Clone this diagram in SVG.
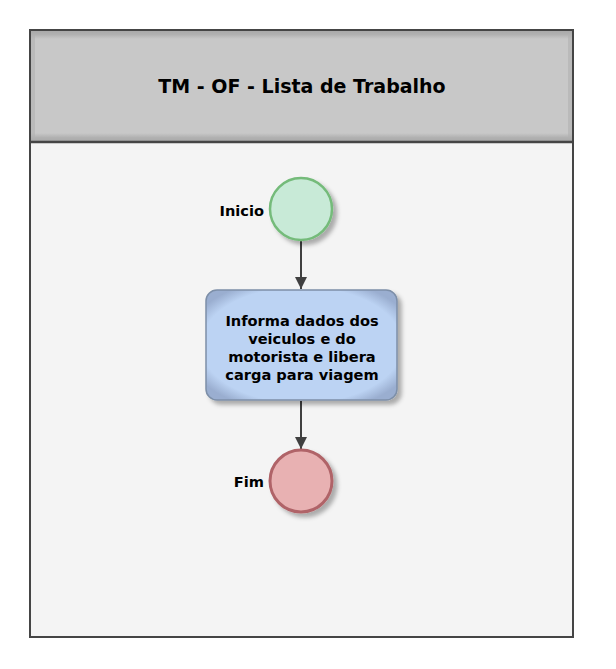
<svg xmlns="http://www.w3.org/2000/svg" width="616" height="669" viewBox="0 0 616 669">
<style>
text{font-family:"DejaVu Sans","Verdana",sans-serif;font-weight:bold;fill:#000}
.lbl{font-size:14.6px}
.conn{stroke:#404040;stroke-width:2;fill:none}
</style>
<defs>
<filter id="sh" x="-30%" y="-30%" width="160%" height="160%">
<feGaussianBlur in="SourceAlpha" stdDeviation="2"/>
<feOffset dx="4" dy="4" result="b"/>
<feFlood flood-color="#000" flood-opacity="0.3"/>
<feComposite in2="b" operator="in"/>
<feMerge><feMergeNode/><feMergeNode in="SourceGraphic"/></feMerge>
</filter>
<radialGradient id="gBox" cx="50%" cy="50%" r="62%">
<stop offset="0.85" stop-color="#bcd3f3"/>
<stop offset="1" stop-color="#9aaed0"/>
</radialGradient>
<linearGradient id="hdrV" x1="0" y1="0" x2="0" y2="1">
<stop offset="0" stop-color="#9a9a9a"/>
<stop offset="0.08" stop-color="#c8c8c8"/>
<stop offset="0.92" stop-color="#c8c8c8"/>
<stop offset="1" stop-color="#9a9a9a"/>
</linearGradient>
<marker id="arrow" viewBox="0 0 12 12" refX="12" refY="6" markerWidth="12" markerHeight="12" markerUnits="userSpaceOnUse" orient="auto">
<path d="M0,0 L12,6 L0,12 z" fill="#404040"/>
</marker>
</defs>
<rect x="0" y="0" width="616" height="669" fill="#fff"/>
<g id="pool">
<rect x="30" y="142" width="543" height="495" fill="#f4f4f4"/>
<rect x="30" y="30" width="543" height="112" fill="url(#hdrV)"/>
<rect x="33" y="33" width="537" height="106" fill="none" stroke="#b0b0b0" stroke-width="4" opacity="0.6"/>
<rect x="30" y="30" width="543" height="607" fill="none" stroke="#454545" stroke-width="2"/>
<line x1="30" y1="142" x2="573" y2="142" stroke="#454545" stroke-width="2.5"/>
<text x="302" y="93" font-size="19" text-anchor="middle">TM - OF - Lista de Trabalho</text>
</g>
<g id="connectors">
<line class="conn" x1="301" y1="241" x2="301" y2="289" marker-end="url(#arrow)"/>
<line class="conn" x1="301" y1="401" x2="301" y2="449" marker-end="url(#arrow)"/>
</g>
<g id="inicio">
<circle cx="301" cy="209" r="31" fill="#c8ead7" stroke="#74bb7a" stroke-width="2.5" filter="url(#sh)"/>
<text class="lbl" x="264" y="216" text-anchor="end">Inicio</text>
</g>
<g id="task">
<rect x="206" y="290" width="191" height="110" rx="11" ry="11" fill="url(#gBox)" stroke="#7d8fa8" stroke-width="1.5" filter="url(#sh)"/>
<text class="lbl" text-anchor="middle" font-size="15"><tspan x="302" y="326">Informa dados dos</tspan><tspan x="302" y="344">veiculos e do</tspan><tspan x="302" y="362">motorista e libera</tspan><tspan x="302" y="380">carga para viagem</tspan></text>
</g>
<g id="fim">
<circle cx="301" cy="481" r="31" fill="#e8b1b2" stroke="#b06468" stroke-width="3" filter="url(#sh)"/>
<text class="lbl" x="264" y="487" text-anchor="end">Fim</text>
</g>
</svg>
